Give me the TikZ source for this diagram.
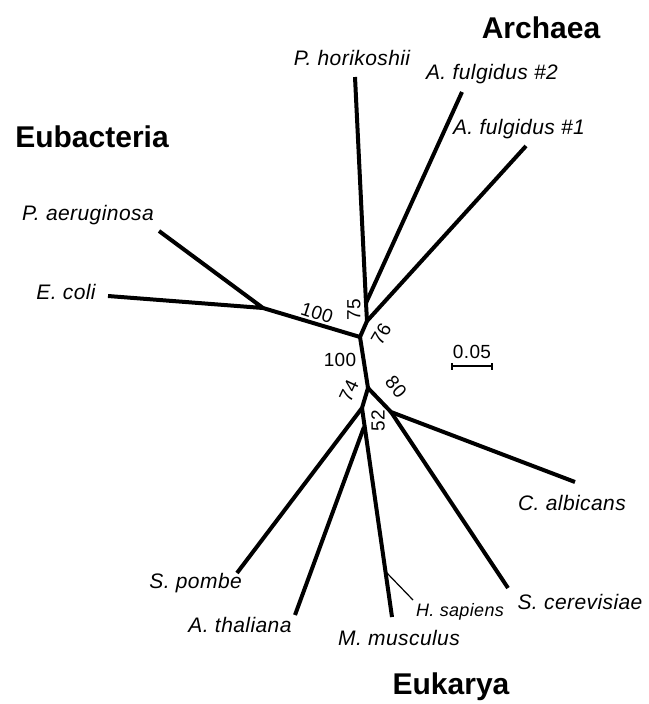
\documentclass[tikz,border=0pt]{standalone}
\usepackage{fontspec}
\setmainfont{Liberation Sans}
\newfontfamily\labfont[LetterSpace=2]{Liberation Sans}
\begin{document}
\begin{tikzpicture}[x=1pt,y=-1pt,
  branch/.style={line width=4pt,line join=round},
  thinbranch/.style={line width=1.2pt},
  leaf/.style={inner sep=0pt,font=\labfont\itshape\fontsize{21}{25}\selectfont},
  smallleaf/.style={inner sep=0pt,font=\labfont\itshape\fontsize{18}{21}\selectfont},
  domainlabel/.style={inner sep=0pt,font=\bfseries\fontsize{30}{35}\selectfont},
  support/.style={inner sep=0pt,font=\labfont\fontsize{19}{22}\selectfont}]
\useasboundingbox (0,0) rectangle (648,704);
% internal nodes
\coordinate (E) at (263,308);
\coordinate (R1) at (360,337);
\coordinate (A1) at (367,321);
\coordinate (A2) at (366,303);
\coordinate (R2) at (368,388);
\coordinate (F) at (391,412);
\coordinate (N74) at (362,408);
\coordinate (N52) at (364,427);
\coordinate (HS) at (386,572);
% leaf ends
\coordinate (pa) at (159,231);
\coordinate (ec) at (108,296);
\coordinate (ph) at (355,77);
\coordinate (af2) at (462,92);
\coordinate (af1) at (526,146);
\coordinate (ca) at (575,482);
\coordinate (sc) at (508,588);
\coordinate (sp) at (237,573);
\coordinate (at) at (295,615);
\coordinate (mm) at (392,617);
\coordinate (hs) at (413,600);
% branches
\draw[branch] (pa) -- (E) -- (ec);
\draw[branch] (E) -- (R1) -- (A1) -- (A2) -- (ph);
\draw[branch] (A2) -- (af2);
\draw[branch] (A1) -- (af1);
\draw[branch] (R1) -- (R2) -- (F) -- (ca);
\draw[branch] (F) -- (sc);
\draw[branch] (R2) -- (N74) -- (sp);
\draw[branch] (N74) -- (mm);
\draw[branch] (N52) -- (at);
\draw[thinbranch] (HS) -- (hs);
% leaf labels
\node[leaf] (tpa) at (88,215) {P. aeruginosa};
\node[leaf] (tec) at (66,292) {E. coli};
\node[leaf] (tph) at (352,58) {P. horikoshii};
\node[leaf] (taf2) at (492,74) {A. fulgidus \#2};
\node[leaf] (taf1) at (519,129) {A. fulgidus \#1};
\node[leaf] (tca) at (572,503) {C. albicans};
\node[leaf] (tsc) at (580,602) {S. cerevisiae};
\node[smallleaf] (ths) at (460,612) {H. sapiens};
\node[leaf] (tmm) at (399,638) {M. musculus};
\node[leaf] (tat) at (240,625) {A. thaliana};
\node[leaf,anchor=east] (tsp) at (242,583) {S. pombe};
% domain labels
\node[domainlabel] (arch) at (541,28) {Archaea};
\node[domainlabel] (eub) at (92,137) {Eubacteria};
\node[domainlabel] (euk) at (451,687) {Eukarya};
% support values
\node[support,rotate=-18] (s100a) at (317,313) {100};
\node[support,rotate=90] (s75) at (354,310) {75};
\node[support,rotate=60] (s76) at (381,334) {76};
\node[support] (s100b) at (340,360) {100};
\node[support,rotate=65] (s74) at (349,391) {74};
\node[support,rotate=-50] (s80) at (396,387) {80};
\node[support,rotate=90] (s52) at (378,421) {52};
% scale bar
\coordinate (sb1) at (452,366);
\coordinate (sb2) at (492,366);
\draw[line width=1.6pt] (sb1) -- (sb2);
\draw[line width=1.6pt] ([yshift=-3.5pt]sb1) -- ([yshift=3.5pt]sb1);
\draw[line width=1.6pt] ([yshift=-3.5pt]sb2) -- ([yshift=3.5pt]sb2);
\node[support] (sbl) at (472,352) {0.05};
\end{tikzpicture}
\end{document}
